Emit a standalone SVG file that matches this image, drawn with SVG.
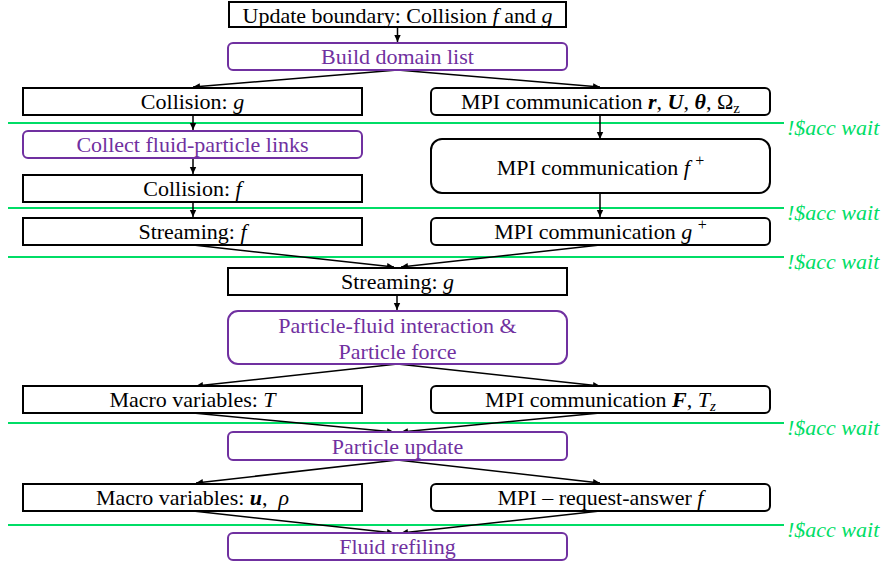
<svg xmlns="http://www.w3.org/2000/svg" width="886" height="567" viewBox="0 0 886 567">
<style>
text{font-size:22px;text-anchor:middle;fill:#000}
.p{fill:#7030A0}
.box{fill:#fff;stroke:#000;stroke-width:2}
.pbox{fill:#fff;stroke:#7030A0;stroke-width:2}
.g{stroke:#00DD66;stroke-width:2}
.w{fill:#00DD66;font-style:italic;text-anchor:start}
.i{font-style:italic}
.b{font-style:italic;font-weight:bold}
.c line{stroke:#000;stroke-width:1.5;marker-end:url(#ah)}
</style>
<defs>
<marker id="ah" markerUnits="userSpaceOnUse" markerWidth="8" markerHeight="8" refX="7" refY="4" orient="auto">
<path d="M0,0.8 L7,4 L0,7.2 Z" fill="#000"/>
</marker>
</defs>
<g font-family="'Liberation Serif', 'Times New Roman', Times, serif">
<g id="waits">
<line class="g" x1="8" y1="123" x2="784" y2="123"/>
<line class="g" x1="8" y1="208" x2="784" y2="208"/>
<line class="g" x1="8" y1="257" x2="784" y2="257"/>
<line class="g" x1="8" y1="423" x2="784" y2="423"/>
<line class="g" x1="8" y1="525" x2="784" y2="525"/>
<text class="w" x="787" y="135">!$acc wait</text>
<text class="w" x="787" y="220">!$acc wait</text>
<text class="w" x="787" y="269">!$acc wait</text>
<text class="w" x="787" y="435">!$acc wait</text>
<text class="w" x="787" y="537">!$acc wait</text>
</g>

<g id="connectors" class="c">
<line x1="397.5" y1="27" x2="397.5" y2="42"/>
<line x1="397.5" y1="70" x2="193" y2="87"/>
<line x1="397.5" y1="70" x2="600" y2="87"/>
<line x1="193" y1="115" x2="193" y2="130"/>
<line x1="193" y1="158" x2="193" y2="174"/>
<line x1="193" y1="202" x2="193" y2="217"/>
<line x1="600" y1="115" x2="600" y2="139"/>
<line x1="600" y1="193" x2="600" y2="217"/>
<line x1="193" y1="245" x2="394" y2="267"/>
<line x1="600" y1="245" x2="401" y2="267"/>
<line x1="397" y1="294" x2="397" y2="310"/>
<line x1="397.5" y1="364" x2="196" y2="386"/>
<line x1="397.5" y1="364" x2="600" y2="386"/>
<line x1="193" y1="413" x2="394" y2="432"/>
<line x1="600" y1="413" x2="401" y2="432"/>
<line x1="397.5" y1="460" x2="196" y2="483"/>
<line x1="397.5" y1="460" x2="600" y2="483"/>
<line x1="193" y1="511" x2="394" y2="533"/>
<line x1="600" y1="511" x2="401" y2="533"/>
</g>

<g id="update-boundary">
<rect class="box" x="229" y="2" width="337" height="25"/>
<text x="397.5" y="23">Update boundary: Collision <tspan class="i">f</tspan> and <tspan class="i">g</tspan></text>
</g>
<g id="build-domain-list">
<rect class="pbox" x="228" y="43" width="339" height="27" rx="5"/>
<text class="p" x="397.5" y="64">Build domain list</text>
</g>
<g id="collision-g">
<rect class="box" x="23" y="88" width="339" height="27"/>
<text x="192.5" y="109">Collision: <tspan class="i">g</tspan></text>
</g>
<g id="mpi-r">
<rect class="box" x="431" y="88" width="339" height="27" rx="5"/>
<text x="600.5" y="109">MPI communication <tspan class="b">r</tspan>, <tspan class="b">U</tspan>, <tspan class="b">θ</tspan>, Ω<tspan font-size="15" dy="4">z</tspan></text>
</g>
<g id="collect-links">
<rect class="pbox" x="23" y="131" width="339" height="27" rx="5"/>
<text class="p" x="192.5" y="152">Collect fluid-particle links</text>
</g>
<g id="mpi-f">
<rect class="box" x="431" y="139" width="339" height="54" rx="11"/>
<text x="600.5" y="175">MPI communication <tspan class="i">f</tspan> <tspan font-size="16" dy="-9">+</tspan></text>
</g>
<g id="collision-f">
<rect class="box" x="23" y="175" width="339" height="27"/>
<text x="192.5" y="196">Collision: <tspan class="i">f</tspan></text>
</g>
<g id="streaming-f">
<rect class="box" x="23" y="218" width="339" height="27"/>
<text x="192.5" y="239">Streaming: <tspan class="i">f</tspan></text>
</g>
<g id="mpi-g">
<rect class="box" x="431" y="218" width="339" height="27" rx="5"/>
<text x="600.5" y="239">MPI communication <tspan class="i">g</tspan> <tspan font-size="16" dy="-9">+</tspan></text>
</g>
<g id="streaming-g">
<rect class="box" x="228" y="268" width="339" height="27"/>
<text x="397.5" y="289">Streaming: <tspan class="i">g</tspan></text>
</g>
<g id="particle-fluid">
<rect class="pbox" x="228" y="311" width="339" height="53" rx="10"/>
<text class="p" x="397.5" y="333">Particle-fluid interaction &amp;</text>
<text class="p" x="397.5" y="359">Particle force</text>
</g>
<g id="macro-t">
<rect class="box" x="23" y="386" width="339" height="27"/>
<text x="192.5" y="407">Macro variables: <tspan class="i">T</tspan></text>
</g>
<g id="mpi-force">
<rect class="box" x="431" y="386" width="339" height="27" rx="5"/>
<text x="600.5" y="407">MPI communication <tspan class="b">F</tspan>, <tspan class="i">T</tspan><tspan class="i" font-size="15" dy="4">z</tspan></text>
</g>
<g id="particle-update">
<rect class="pbox" x="228" y="432" width="339" height="28" rx="5"/>
<text class="p" x="397.5" y="454">Particle update</text>
</g>
<g id="macro-u">
<rect class="box" x="23" y="484" width="339" height="27"/>
<text x="192.5" y="505">Macro variables: <tspan class="b">u</tspan>,&#160; <tspan class="i">ρ</tspan></text>
</g>
<g id="mpi-request">
<rect class="box" x="431" y="484" width="339" height="27" rx="5"/>
<text x="600.5" y="505">MPI – request-answer <tspan class="i">f</tspan></text>
</g>
<g id="fluid-refiling">
<rect class="pbox" x="228" y="533" width="339" height="27" rx="5"/>
<text class="p" x="397.5" y="554">Fluid refiling</text>
</g>
</g>
</svg>
